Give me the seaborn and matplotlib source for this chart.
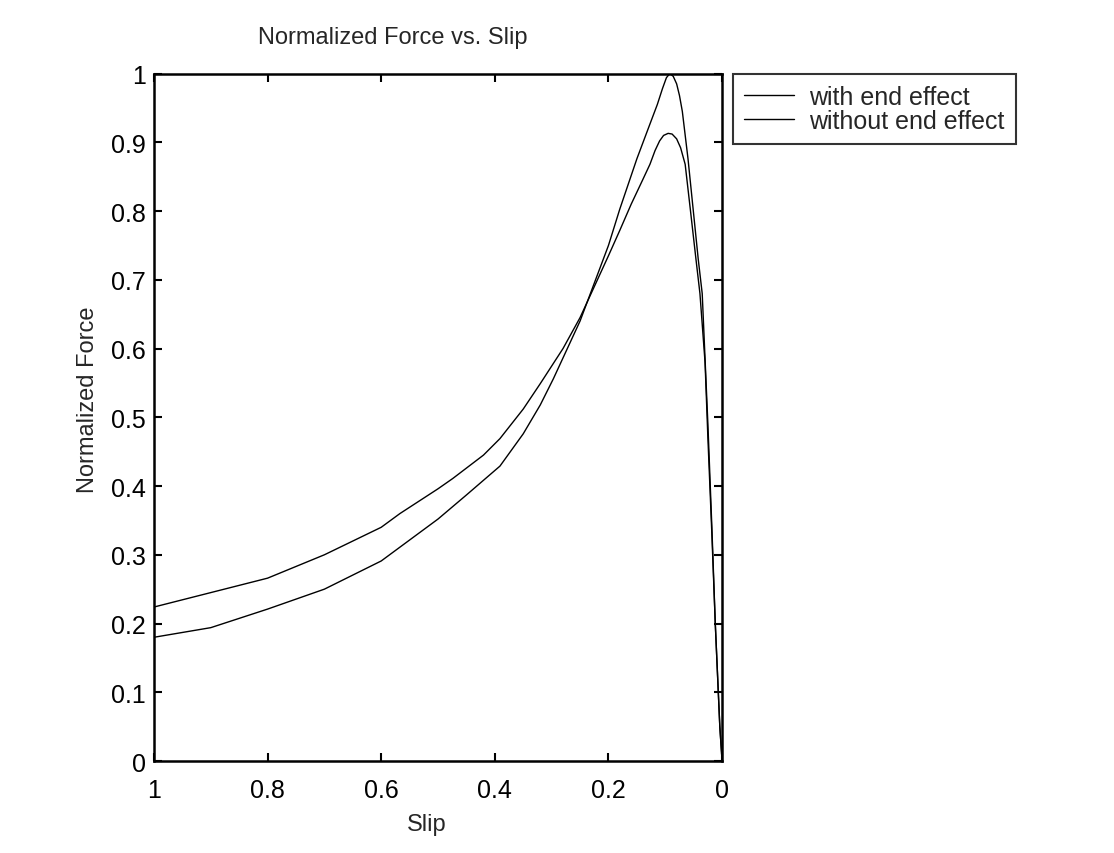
import seaborn as sns
import matplotlib.pyplot as plt
import pandas as pd

# Values
slip_with = [1.0, 0.9, 0.8, 0.7, 0.6, 0.567, 0.5, 0.474, 0.42, 0.391, 0.35, 0.32,
             0.28, 0.25, 0.2, 0.18, 0.16, 0.14, 0.127, 0.118, 0.11, 0.103, 0.095, 0.088,
             0.08, 0.073, 0.065, 0.056, 0.046, 0.039, 0.03, 0.025, 0.018, 0.012, 0.004, 0.0]
force_with = [0.224, 0.245, 0.266, 0.300, 0.340, 0.360, 0.396, 0.411, 0.445, 0.469, 0.512, 0.549,
              0.600, 0.645, 0.735, 0.772, 0.810, 0.845, 0.868, 0.888, 0.902, 0.910, 0.913, 0.912,
              0.905, 0.892, 0.868, 0.803, 0.730, 0.680, 0.580, 0.470, 0.330, 0.200, 0.050, 0.0]

slip_without = [1.0, 0.9, 0.8, 0.7, 0.6, 0.5, 0.45, 0.391, 0.35, 0.32, 0.297, 0.25, 0.2,
                0.18, 0.15, 0.13, 0.114, 0.105, 0.098, 0.092, 0.086, 0.08, 0.075, 0.07,
                0.06, 0.051, 0.042, 0.035, 0.025, 0.018, 0.012, 0.004, 0.0]
force_without = [0.180, 0.194, 0.221, 0.250, 0.291, 0.352, 0.387, 0.429, 0.476, 0.518, 0.556, 0.640, 0.750,
                 0.803, 0.876, 0.920, 0.955, 0.978, 0.994, 1.0, 0.996, 0.985, 0.968, 0.945,
                 0.876, 0.803, 0.730, 0.680, 0.490, 0.340, 0.200, 0.050, 0.0]

series_names = ['with end effect', 'without end effect']
x_ticks = [1, 0.8, 0.6, 0.4, 0.2, 0]
x_labels = ['1', '0.8', '0.6', '0.4', '0.2', '0']
y_ticks = [0, 0.1, 0.2, 0.3, 0.4, 0.5, 0.6, 0.7, 0.8, 0.9, 1]
y_labels = ['0', '0.1', '0.2', '0.3', '0.4', '0.5', '0.6', '0.7', '0.8', '0.9', '1']

df = pd.concat([
    pd.DataFrame({'Slip': slip_with, 'Force': force_with, 'series': series_names[0]}),
    pd.DataFrame({'Slip': slip_without, 'Force': force_without, 'series': series_names[1]}),
])

sns.set_style('ticks')
plt.rcParams['font.family'] = ['Liberation Sans', 'DejaVu Sans']
fs = 18

fig = plt.figure(figsize=(11.14, 8.54), dpi=100, facecolor='white')
ax = fig.add_axes([0.1382, 0.1077, 0.510, 0.805])

sns.lineplot(data=df, x='Slip', y='Force', hue='series', palette=['black', 'black'],
             estimator=None, sort=False, linewidth=1.0, ax=ax)

ax.set_xlim(1, 0)
ax.set_ylim(0, 1)
ax.set_xticks(x_ticks)
ax.set_xticklabels(x_labels)
ax.set_yticks(y_ticks)
ax.set_yticklabels(y_labels)
ax.tick_params(direction='in', length=6, width=1.5, top=True, right=True,
               labelsize=fs, colors='black')
ax.tick_params(axis='x', pad=12)
ax.tick_params(axis='y', pad=6)
for s in ax.spines.values():
    s.set_visible(True)
    s.set_linewidth(1.8)
    s.set_color('black')

ax.set_title('Normalized Force vs. Slip', fontsize=fs - 1, pad=22, x=0.42)
ax.set_xlabel('Slip', fontsize=fs - 1)
ax.xaxis.set_label_coords(0.48, -0.075)
ax.set_ylabel('Normalized Force', fontsize=fs - 1)
ax.yaxis.set_label_coords(-0.097, 0.527)

handles, labels = ax.get_legend_handles_labels()
leg = ax.legend(handles, labels, loc='upper left', bbox_to_anchor=(1.019, 1.0),
                fontsize=fs, frameon=True, fancybox=False, handlelength=2.0,
                handletextpad=0.6, borderpad=0.45, labelspacing=0.0,
                borderaxespad=0)
leg.get_frame().set_edgecolor('black')
leg.get_frame().set_linewidth(1.5)

plt.savefig('out.png', dpi=100, facecolor='white')
plt.close()
